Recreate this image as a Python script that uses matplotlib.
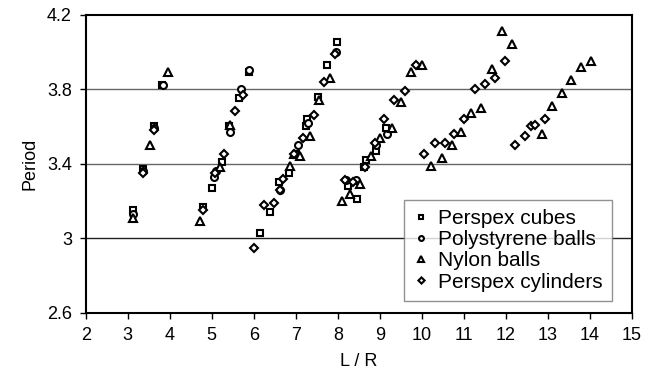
import numpy as np
import matplotlib.pyplot as plt

plt.rcParams['font.family'] = ['Liberation Sans', 'DejaVu Sans']

# Perspex cubes
cubes_x = [3.12, 3.37, 3.63, 3.82,
           4.78, 5.00, 5.25, 5.42, 5.65, 5.88,
           6.15, 6.38, 6.60, 6.84, 7.00, 7.25, 7.27, 7.52, 7.75, 7.98,
           8.25, 8.45, 8.62, 8.68, 8.90, 9.14]
cubes_y = [3.15, 3.37, 3.60, 3.82,
           3.17, 3.27, 3.41, 3.60, 3.75, 3.89,
           3.03, 3.14, 3.30, 3.35, 3.45, 3.60, 3.64, 3.76, 3.93, 4.05,
           3.28, 3.21, 3.38, 3.42, 3.47, 3.59]

# Polystyrene balls
poly_x = [3.13, 3.37, 3.63, 3.83,
          5.05, 5.10, 5.43, 5.70, 5.88,
          6.62, 7.05, 7.30, 7.95,
          8.20, 8.44, 8.90, 9.16]
poly_y = [3.13, 3.36, 3.59, 3.82,
          3.33, 3.36, 3.57, 3.80, 3.90,
          3.26, 3.50, 3.62, 4.00,
          3.31, 3.31, 3.50, 3.56]

# Nylon balls
nylon_x = [3.12, 3.53, 3.95,
           4.73, 5.20, 5.44,
           6.86, 6.95, 7.10, 7.35, 7.55, 7.82,
           8.09, 8.30, 8.54, 8.80, 9.00, 9.30, 9.50, 9.75, 10.00,
           10.23, 10.47, 10.71, 10.94, 11.18, 11.42, 11.66, 11.90, 12.14,
           12.85, 13.09, 13.33, 13.56, 13.80, 14.04]
nylon_y = [3.11, 3.50, 3.89,
           3.09, 3.38, 3.61,
           3.39, 3.45, 3.44, 3.55, 3.74, 3.86,
           3.20, 3.24, 3.29, 3.44, 3.54, 3.59, 3.73, 3.89, 3.93,
           3.39, 3.43, 3.50, 3.57, 3.67, 3.70, 3.91, 4.11, 4.04,
           3.56, 3.71, 3.78, 3.85, 3.92, 3.95]

# Perspex cylinders
cyl_x = [3.37, 3.63,
         4.80, 5.07, 5.30, 5.55, 5.74,
         6.00, 6.24, 6.48, 6.62, 6.70, 6.95, 7.17, 7.43, 7.67, 7.93,
         8.17, 8.37, 8.64, 8.88, 9.10, 9.34, 9.60, 9.86,
         10.06, 10.31, 10.55, 10.76, 11.00, 11.26, 11.50, 11.74, 11.98,
         12.21, 12.45, 12.61, 12.69, 12.93]
cyl_y = [3.35, 3.58,
         3.15, 3.35, 3.45, 3.68, 3.77,
         2.95, 3.18, 3.19, 3.26, 3.32, 3.45, 3.54, 3.66, 3.84, 3.99,
         3.31, 3.30, 3.38, 3.51, 3.64, 3.74, 3.79, 3.93,
         3.45, 3.51, 3.51, 3.56, 3.64, 3.80, 3.83, 3.86, 3.95,
         3.50, 3.55, 3.60, 3.61, 3.64]

xticks = list(range(2, 16))
yticks = [2.6, 3.0, 3.4, 3.8, 4.2]
ytick_labels = ['2.6', '3', '3.4', '3.8', '4.2']

fig = plt.figure(figsize=(6.7, 3.82), dpi=100)
ax = fig.add_axes([0.128, 0.181, 0.815, 0.781])

# horizontal gridlines
for g, c in [(3.0, '#222222'), (3.4, '#666666'), (3.8, '#666666')]:
    ax.axhline(g, color=c, lw=1.0, zorder=1)

common = dict(linestyle='none', mfc='white', mec='black', mew=1.5, zorder=3)
ax.plot(cubes_x, cubes_y, marker='s', ms=5, label='Perspex cubes', **common)
ax.plot(poly_x, poly_y, marker='o', ms=5, label='Polystyrene balls', **common)
ax.plot(nylon_x, nylon_y, marker='^', ms=6, label='Nylon balls', **common)
ax.plot(cyl_x, cyl_y, marker='D', ms=4.5, label='Perspex cylinders', **common)

ax.set_xlim(2, 15)
ax.set_ylim(2.6, 4.2)
ax.set_xticks(xticks)
ax.set_yticks(yticks)
ax.set_yticklabels(ytick_labels)
ax.tick_params(direction='out', length=4, width=1, labelsize=13, pad=6)
for s in ax.spines.values():
    s.set_linewidth(1.5)
ax.set_xlabel('L / R', fontsize=13, labelpad=7)
ax.set_ylabel('Period', fontsize=13, labelpad=6)

leg = ax.legend(loc='lower left', bbox_to_anchor=(0.582, 0.04), borderaxespad=0,
                fontsize=15, frameon=True, fancybox=False, handlelength=0.8,
                handletextpad=0.4, labelspacing=0.1, markerscale=0.7,
                borderpad=0.45)
leg.get_frame().set_edgecolor('#777777')
leg.get_frame().set_linewidth(1.0)

fig.savefig('out.png', dpi=100)
